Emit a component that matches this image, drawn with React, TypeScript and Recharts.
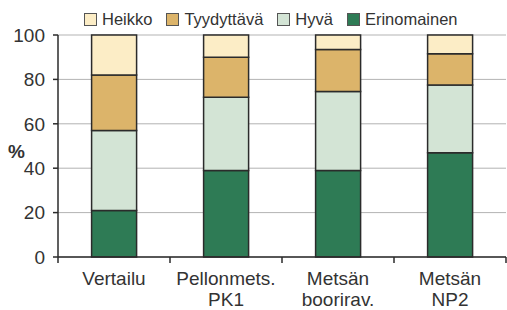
import { BarChart, Bar, XAxis, YAxis, CartesianGrid, Legend } from 'recharts';

const categories = ['Vertailu', 'Pellonmets.\nPK1', 'Metsän\nboorirav.', 'Metsän\nNP2'];
const erinomainen = [21, 39, 39, 47];
const hyva = [36, 33, 35.5, 30.5];
const tyydyttava = [25, 18, 19, 14];
const heikko = [18, 10, 6.5, 8.5];
const yTicks = [0, 20, 40, 60, 80, 100];

const SERIES = [
  { key: 'Heikko', color: '#fcedc6' },
  { key: 'Tyydyttävä', color: '#dcb46a' },
  { key: 'Hyvä', color: '#d3e4d5' },
  { key: 'Erinomainen', color: '#2e7b55' },
];

const data = categories.map((name, i) => ({
  name,
  Erinomainen: erinomainen[i],
  'Hyvä': hyva[i],
  'Tyydyttävä': tyydyttava[i],
  Heikko: heikko[i],
}));

const FONT = '"Liberation Sans", Arial, sans-serif';
const TEXT = '#333';
const OUTLINE = '#2b2b2b';

function LegendContent() {
  return (
    <div style={{ display: 'flex', height: 27, alignItems: 'flex-start', fontFamily: FONT, fontSize: 16.5, color: TEXT, lineHeight: '22px' }}>
      {SERIES.map((s) => (
        <div key={s.key} style={{ display: 'flex', alignItems: 'center', marginRight: 14 }}>
          <span style={{ width: 11, height: 11, background: s.color, border: '1px solid #555', marginRight: 5, display: 'inline-block' }} />
          <span>{s.key}</span>
        </div>
      ))}
    </div>
  );
}

function CategoryTick(props: any) {
  const { x, y, payload, index } = props;
  const half = 56;
  const lines = String(payload.value).split('\n');
  return (
    <g>
      <line x1={x - half} y1={y} x2={x - half} y2={y + 6} stroke={OUTLINE} strokeWidth={1.5} />
      {index === categories.length - 1 && (
        <line x1={x + half} y1={y} x2={x + half} y2={y + 6} stroke={OUTLINE} strokeWidth={1.5} />
      )}
      <text x={x} y={y} textAnchor="middle" fill={TEXT} fontSize={19} fontFamily={FONT}>
        {lines.map((l, i) => (
          <tspan key={i} x={x} y={y + 28 + i * 21}>{l}</tspan>
        ))}
      </text>
    </g>
  );
}

export default function App() {
  return (
    <div style={{ position: 'absolute', left: 0, top: 0, width: 507, height: 310, background: '#fff' }}>
      <BarChart
        width={507}
        height={310}
        data={data}
        margin={{ top: 8, right: 1, left: 0, bottom: 0 }}
        barCategoryGap="30%"
      >
        <CartesianGrid vertical={false} stroke="#b3b3b3" strokeWidth={1} />
        <Legend
          verticalAlign="top"
          content={<LegendContent />}
          wrapperStyle={{ left: 84, width: 420 }}
        />
        <XAxis
          dataKey="name"
          interval={0}
          height={53}
          tickSize={0}
          tickMargin={0}
          tickLine={false}
          axisLine={{ stroke: OUTLINE, strokeWidth: 1.5 }}
          tick={<CategoryTick />}
        />
        <YAxis
          domain={[0, 100]}
          ticks={yTicks}
          width={58}
          tickSize={5}
          tickMargin={8}
          axisLine={{ stroke: OUTLINE, strokeWidth: 1.5 }}
          tickLine={{ stroke: OUTLINE, strokeWidth: 1.5 }}
          tick={{ fontSize: 19, fill: TEXT, fontFamily: FONT }}
          label={{ value: '%', position: 'insideLeft', offset: 8, dy: 5, style: { fontSize: 19, fontWeight: 'bold', fill: TEXT, fontFamily: FONT } }}
        />
        {SERIES.slice().reverse().map((s) => (
          <Bar
            key={s.key}
            dataKey={s.key}
            stackId="a"
            fill={s.color}
            stroke={OUTLINE}
            strokeWidth={1.5}
            isAnimationActive={false}
          />
        ))}
      </BarChart>
    </div>
  );
}
